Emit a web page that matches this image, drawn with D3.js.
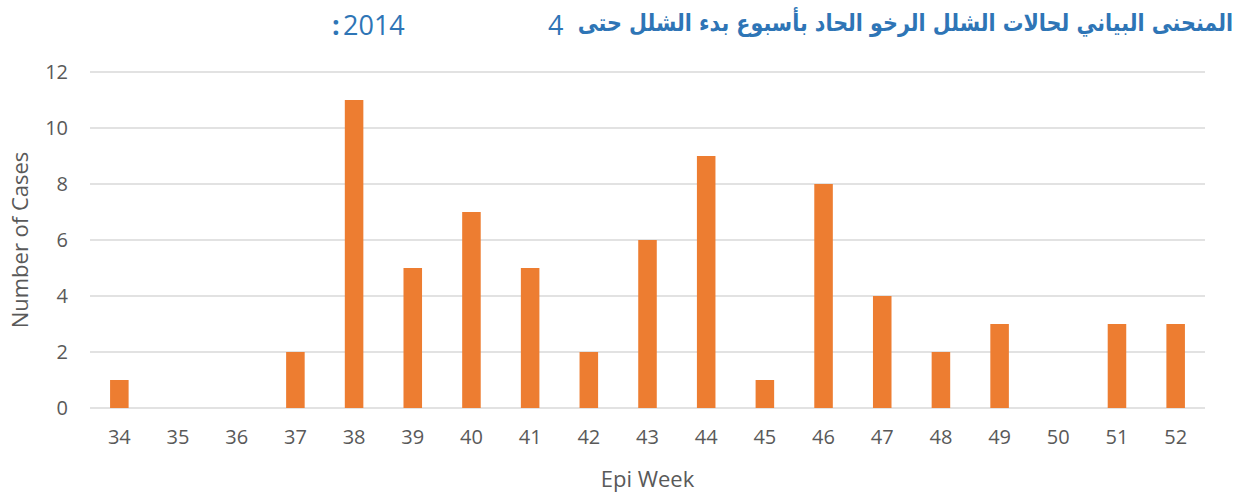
<!DOCTYPE html>
<html lang="ar">
  <head>
    <meta charset="utf-8">
    <title>AFP cases by week of onset</title>
    <script type="text/javascript" src="https://d3js.org/d3.v7.min.js"></script>
    <style type="text/css">
      body {
        margin: 0;
        background: #ffffff;
      }

      .tick text {
        font-family: "Open Sans", sans-serif;
        font-size: 20px;
        fill: #595959;
      }

      .axis-title {
        font-family: "Open Sans", sans-serif;
        font-size: 22px;
        fill: #595959;
      }

      .grid line {
        stroke: #d9d9d9;
        stroke-width: 1.3;
      }

      .title-ar {
        font-family: "DejaVu Sans", sans-serif;
        font-weight: bold;
        font-size: 24px;
        fill: #2e75b6;
      }

      .title-num {
        font-family: "Open Sans", sans-serif;
        font-size: 27px;
        fill: #2e75b6;
      }
    </style>
  </head>

  <body>
    <svg id="chart"></svg>
    <script type="text/javascript">

    // data
    const weeks = ['34', '35', '36', '37', '38', '39', '40', '41', '42', '43',
                   '44', '45', '46', '47', '48', '49', '50', '51', '52'];
    const cases = [1, 0, 0, 2, 11, 5, 7, 5, 2, 6, 9, 1, 8, 4, 2, 3, 0, 3, 3];
    const yTicks = [0, 2, 4, 6, 8, 10, 12];

    const titleText = 'المنحنى البياني لحالات الشلل الرخو الحاد بأسبوع بدء الشلل حتى';

    // layout
    const width = 1251;
    const height = 494;

    const margin = {
      top: 72,
      right: 46,
      bottom: 86,
      left: 90
    };

    const svg = d3.select('#chart')
      .attr('width', width)
      .attr('height', height);

    // scales
    const xScale = d3.scaleBand()
      .domain(weeks)
      .range([margin.left, width - margin.right])
      .paddingInner(0.684)
      .paddingOuter(0.342);

    const yScale = d3.scaleLinear()
      .domain([0, 12])
      .range([height - margin.bottom, margin.top]);

    // gridlines
    svg.append('g')
      .attr('class', 'grid')
      .selectAll('line')
      .data(yTicks)
      .join('line')
      .attr('x1', margin.left)
      .attr('x2', width - margin.right)
      .attr('y1', d => yScale(d))
      .attr('y2', d => yScale(d));

    // bars
    svg.append('g')
      .selectAll('rect')
      .data(weeks)
      .join('rect')
      .attr('x', d => xScale(d))
      .attr('width', xScale.bandwidth())
      .attr('y', (d, i) => yScale(cases[i]))
      .attr('height', (d, i) => yScale(0) - yScale(cases[i]))
      .attr('fill', '#ed7d31');

    // axes
    const xAxis = svg.append('g')
      .attr('transform', 'translate(0,' + (height - margin.bottom) + ')')
      .call(d3.axisBottom(xScale).tickSize(0).tickPadding(22));
    xAxis.select('.domain').remove();

    const yAxis = svg.append('g')
      .attr('transform', 'translate(' + margin.left + ',0)')
      .call(d3.axisLeft(yScale).tickValues(yTicks).tickSize(0).tickPadding(22));
    yAxis.select('.domain').remove();

    // axis titles
    svg.append('text')
      .attr('class', 'axis-title')
      .attr('text-anchor', 'middle')
      .attr('x', (margin.left + width - margin.right) / 2)
      .attr('y', 487)
      .text('Epi Week');

    svg.append('text')
      .attr('class', 'axis-title')
      .attr('text-anchor', 'middle')
      .attr('transform', 'translate(28,' + yScale(6) + ') rotate(-90)')
      .text('Number of Cases');

    // title, arabic part right aligned and squeezed a bit to fit the width
    const titleAr = svg.append('text')
      .attr('class', 'title-ar')
      .attr('text-anchor', 'end')
      .attr('x', 0)
      .attr('y', 0)
      .text(titleText);
    const arWidth = titleAr.node().getComputedTextLength();
    titleAr.attr('transform', 'translate(1233,31) scale(' + (656 / arWidth) + ',1)');

    svg.append('text')
      .attr('class', 'title-num')
      .attr('x', 548)
      .attr('y', 35)
      .text('4');

    svg.append('text')
      .attr('class', 'title-num')
      .attr('x', 343)
      .attr('y', 35)
      .text('2014');

    svg.append('text')
      .attr('class', 'title-num')
      .attr('font-weight', 'bold')
      .attr('x', 332)
      .attr('y', 35)
      .text(':');

    </script>
  </body>
</html>
